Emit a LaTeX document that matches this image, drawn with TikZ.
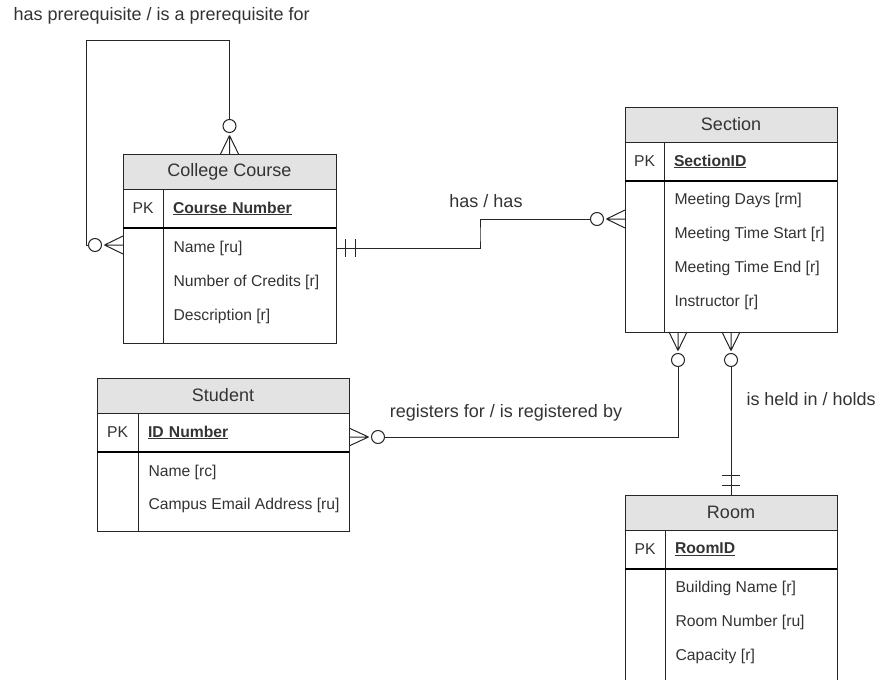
\documentclass[tikz,border=0pt]{standalone}
\usepackage{fontspec}
\setmainfont{Liberation Sans}
\usetikzlibrary{positioning}

\begin{document}
\begin{tikzpicture}[x=1pt,y=-1pt,line width=1pt]
        \tikzstyle{every node}=[text=black!80, font=\fontsize{15.7}{18}\selectfont]
        \tikzstyle{head}=[draw=black!85, fill=gray!22, minimum height=35, outer sep=0pt, font=\fontsize{18}{21}\selectfont]
        \tikzstyle{cell}=[draw=black!85, inner sep=0pt, outer sep=0pt, anchor=north west]
        \tikzstyle{key}=[cell, minimum width=40, minimum height=39]
        \tikzstyle{pkey}=[cell, minimum height=39, inner xsep=10pt, align=left, font=\fontsize{15.7}{18}\selectfont\bfseries]
        \tikzstyle{attr}=[inner sep=0pt]
        \tikzstyle{ring}=[circle, draw=black!85, fill=white, minimum size=13, inner sep=0pt]
        \tikzstyle{rel}=[draw=black!85]
        \tikzstyle{reltext}=[inner sep=0pt, font=\fontsize{18}{21}\selectfont]
        \useasboundingbox (0,0) rectangle (879,680);

        % College Course
        \node[head, minimum width=213] (course) at (229.5,171.5) {College Course};
        \node[key] (course-pk) at (course.south west) {PK};
        \node[pkey, text width=153] (course-id) at (course-pk.north east) {\underline{Course Number}};
        \node[cell, minimum width=40, minimum height=115] (course-kb) at (course-pk.south west) {};
        \node[cell, minimum width=173, minimum height=115] (course-body) at (course-id.south west) {};
        \draw[line width=1.8pt] (course-pk.south west) -- (course-id.south east);
        \node[attr, below right=20pt and 10pt of course-body.north west, anchor=west] (course-a1) {Name [ru]};
        \node[attr, below=34pt of course-a1.west, anchor=west] (course-a2) {Number of Credits [r]};
        \node[attr, below=34pt of course-a2.west, anchor=west] (course-a3) {Description [r]};

        % Section
        \node[head, minimum width=212] (section) at (731,124.5) {Section};
        \node[key, minimum width=39] (section-pk) at (section.south west) {PK};
        \node[pkey, text width=153] (section-id) at (section-pk.north east) {\underline{SectionID}};
        \node[cell, minimum width=39, minimum height=151] (section-kb) at (section-pk.south west) {};
        \node[cell, minimum width=173, minimum height=151] (section-body) at (section-id.south west) {};
        \draw[line width=1.8pt] (section-pk.south west) -- (section-id.south east);
        \node[attr, below right=19pt and 10pt of section-body.north west, anchor=west] (section-a1) {Meeting Days [rm]};
        \node[attr, below=34.3pt of section-a1.west, anchor=west] (section-a2) {Meeting Time Start [r]};
        \node[attr, below=34.3pt of section-a2.west, anchor=west] (section-a3) {Meeting Time End [r]};
        \node[attr, below=34.3pt of section-a3.west, anchor=west] (section-a4) {Instructor [r]};

        % Student
        \node[head, minimum width=252] (student) at (223,395.5) {Student};
        \node[key, minimum width=41] (student-pk) at (student.south west) {PK};
        \node[pkey, text width=191] (student-id) at (student-pk.north east) {\underline{ID Number}};
        \node[cell, minimum width=41, minimum height=79] (student-kb) at (student-pk.south west) {};
        \node[cell, minimum width=211, minimum height=79] (student-body) at (student-id.south west) {};
        \draw[line width=1.8pt] (student-pk.south west) -- (student-id.south east);
        \node[attr, below right=20pt and 10pt of student-body.north west, anchor=west] (student-a1) {Name [rc]};
        \node[attr, below=33pt of student-a1.west, anchor=west] (student-a2) {Campus Email Address [ru]};

        % Room
        \node[head, minimum width=212] (room) at (731,512.5) {Room};
        \node[key] (room-pk) at (room.south west) {PK};
        \node[pkey, text width=152] (room-id) at (room-pk.north east) {\underline{RoomID}};
        \node[cell, minimum width=40, minimum height=131] (room-kb) at (room-pk.south west) {};
        \node[cell, minimum width=172, minimum height=131] (room-body) at (room-id.south west) {};
        \draw[line width=1.8pt] (room-pk.south west) -- (room-id.south east);
        \node[attr, below right=19pt and 10pt of room-body.north west, anchor=west] (room-a1) {Building Name [r]};
        \node[attr, below=34pt of room-a1.west, anchor=west] (room-a2) {Room Number [ru]};
        \node[attr, below=34pt of room-a2.west, anchor=west] (room-a3) {Capacity [r]};

        % has prerequisite / is a prerequisite for
        \node[reltext, anchor=west] (t-prereq) at (13,16) {has prerequisite / is a prerequisite for};
        \node[ring] (p-top) at (229.5,126) {};
        \node[ring] (p-left) at (95,245) {};
        \coordinate (loop) at (86,40);
        \draw[rel] (p-top.north) |- (loop) |- (p-left.west);
        \coordinate (f-top) at ([yshift=-2.5pt]p-top.south);
        \draw[rel] (f-top) -- ([xshift=-9pt]course.north) (f-top) -- (course.north) (f-top) -- ([xshift=9pt]course.north);
        \coordinate (e-left) at (course-kb.west |- p-left);
        \coordinate (f-left) at ([xshift=2.5pt]p-left.east);
        \draw[rel] (f-left) -- ([yshift=9pt]e-left) (f-left) -- (e-left) (f-left) -- ([yshift=-9pt]e-left);

        % has / has
        \node[reltext] (t-has) at (486,201) {has / has};
        \coordinate (e-has) at (course-body.east |- course-a1);
        \coordinate (bend) at (480,235);
        \node[ring] (p-sec) at (597,219) {};
        \draw[rel] (e-has) -| (bend) |- (p-sec.west);
        \draw[rel] ([xshift=9pt,yshift=9pt]e-has) -- ([xshift=9pt,yshift=-9pt]e-has)
                   ([xshift=19pt,yshift=9pt]e-has) -- ([xshift=19pt,yshift=-9pt]e-has);
        \coordinate (e-sec) at (section-kb.west |- p-sec);
        \coordinate (f-sec) at ([xshift=2.5pt]p-sec.east);
        \draw[rel] (f-sec) -- ([yshift=9pt]e-sec) (f-sec) -- (e-sec) (f-sec) -- ([yshift=-9pt]e-sec);

        % registers for / is registered by
        \node[reltext] (t-reg) at (506,413) {registers for / is registered by};
        \node[ring] (p-reg) at (678,360) {};
        \node[ring] (p-stud) at (378,437) {};
        \draw[rel] (p-reg.south) |- (p-stud.east);
        \coordinate (e-reg) at (p-reg |- section-body.south);
        \coordinate (f-reg) at ([yshift=2.5pt]p-reg.north);
        \draw[rel] (f-reg) -- ([xshift=-9pt]e-reg) (f-reg) -- (e-reg) (f-reg) -- ([xshift=9pt]e-reg);
        \coordinate (e-stud) at (student-id.east |- p-stud);
        \coordinate (f-stud) at ([xshift=-2.5pt]p-stud.west);
        \draw[rel] (f-stud) -- ([yshift=9pt]e-stud) (f-stud) -- (e-stud) (f-stud) -- ([yshift=-9pt]e-stud);

        % is held in / holds
        \node[reltext, anchor=west] (t-held) at (746,399) {is held in / holds};
        \node[ring] (p-room) at (731,360) {};
        \draw[rel] (p-room.south) -- (room.north);
        \coordinate (e-room) at (p-room |- section-body.south);
        \coordinate (f-room) at ([yshift=2.5pt]p-room.north);
        \draw[rel] (f-room) -- ([xshift=-9pt]e-room) (f-room) -- (e-room) (f-room) -- ([xshift=9pt]e-room);
        \draw[rel] ([xshift=-9pt,yshift=10pt]room.north) -- ([xshift=9pt,yshift=10pt]room.north)
                   ([xshift=-9pt,yshift=20pt]room.north) -- ([xshift=9pt,yshift=20pt]room.north);
    \end{tikzpicture}
\end{document}
